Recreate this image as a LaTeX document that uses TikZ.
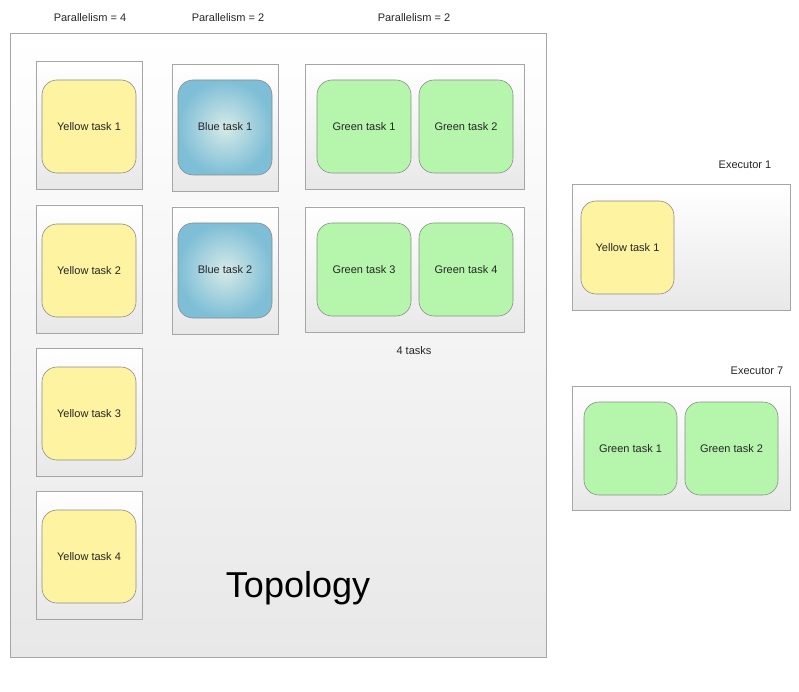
\documentclass[tikz,border=0pt]{standalone}
\usepackage{fontspec}
\setmainfont{Liberation Sans}
\begin{document}
\begin{tikzpicture}[x=1pt,y=-1pt,
  lbl/.style={font=\fontsize{11}{13}\selectfont, text=black!85},
  frame/.style={draw=black!35, top color=white, bottom color=black!9, line width=0.6pt},
  task/.style={draw=black!45, rounded corners=15pt, line width=0.6pt, font=\fontsize{11}{13}\selectfont, text=black!85},
  yt/.style={task, fill={rgb,255:red,253;green,243;blue,160}},
  gt/.style={task, fill={rgb,255:red,181;green,246;blue,172}},
  bt/.style={task, inner color={rgb,255:red,214;green,234;blue,232}, outer color={rgb,255:red,126;green,190;blue,214}}]
\useasboundingbox (0,0) rectangle (799,692);
\draw[frame] (10,33) rectangle (546,657);
\node[lbl] (p1) at (90,18) {Parallelism = 4};
\node[lbl] (p2) at (228,18) {Parallelism = 2};
\node[lbl] (p3) at (414,18) {Parallelism = 2};
% yellow
\foreach \y/\n in {61/1,205/2,348/3,491/4}{
  \draw[frame] (36,\y) rectangle (142,\y+128);
  \draw[yt] (42,\y+19) rectangle (136,\y+112);
  \node[lbl] (y\n) at (89,\y+66) {Yellow task \n};
}
% blue
\foreach \y/\n in {64/1,207/2}{
  \draw[frame] (172,\y) rectangle (278,\y+127);
  \draw[bt] (178,\y+16) rectangle (272,\y+111);
  \node[lbl] (b\n) at (225,\y+63) {Blue task \n};
}
% green
\foreach \y/\a/\b in {64/1/2,207/3/4}{
  \draw[frame] (305,\y) rectangle (524,\y+125);
  \draw[gt] (317,\y+16) rectangle (411,\y+109);
  \draw[gt] (419,\y+16) rectangle (513,\y+109);
  \node[lbl] (g\a) at (364,\y+63) {Green task \a};
  \node[lbl] (g\b) at (466,\y+63) {Green task \b};
}
\node[lbl] (four) at (414,351) {4 tasks};
\node[font=\fontsize{36}{40}\selectfont] (topo) at (298,588) {Topology};
% executors
\node[lbl] (e1) at (745,165) {Executor 1};
\draw[frame] (572,184) rectangle (790,310);
\draw[yt] (581,201) rectangle (674,294);
\node[lbl] (ey) at (627.5,248) {Yellow task 1};
\node[lbl] (e7) at (757,371) {Executor 7};
\draw[frame] (572,386) rectangle (790,510);
\draw[gt] (584,402) rectangle (677,495);
\draw[gt] (685,402) rectangle (778,495);
\node[lbl] (eg1) at (630.5,449) {Green task 1};
\node[lbl] (eg2) at (731.5,449) {Green task 2};
\end{tikzpicture}
\end{document}
